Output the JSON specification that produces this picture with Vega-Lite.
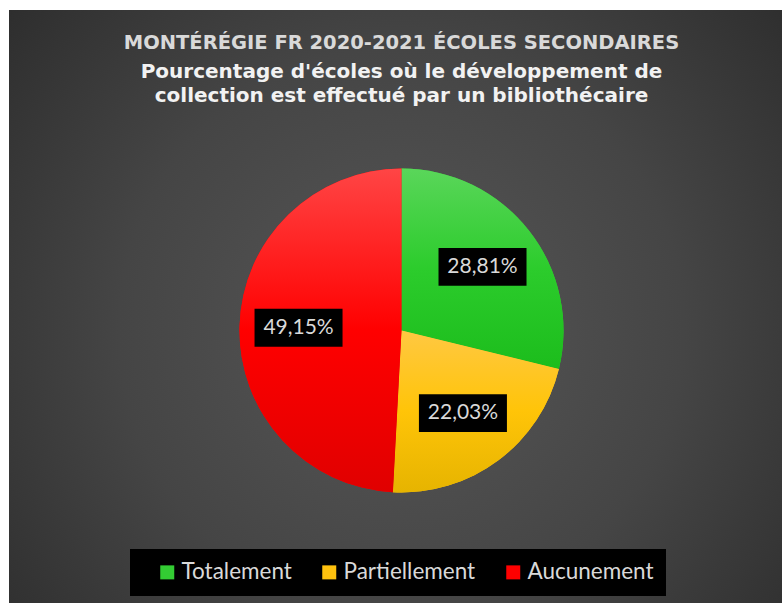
{
  "$schema": "https://vega.github.io/schema/vega-lite/v6.json",
  "width": 782,
  "height": 603,
  "autosize": {"type": "fit", "contains": "padding"},
  "padding": {"left": 9, "top": 10, "right": -12, "bottom": -48},
  "background": "white",
  "title": {
    "text": "MONTÉRÉGIE FR 2020-2021 ÉCOLES SECONDAIRES",
    "subtitle": ["Pourcentage d'écoles où le développement de", "collection est effectué par un bibliothécaire"],
    "anchor": "middle",
    "frame": "group",
    "offset": -97,
    "font": "DejaVu Sans",
    "fontWeight": "bold",
    "fontSize": 19.5,
    "color": "#d9d9d9",
    "subtitleFont": "DejaVu Sans",
    "subtitleFontWeight": "bold",
    "subtitleFontSize": 20,
    "subtitleColor": "#f2f2f2",
    "subtitleLineHeight": 24,
    "subtitlePadding": 9
  },
  "data": {
    "values": [
      {"categorie": "Totalement", "part": 0.2881},
      {"categorie": "Partiellement", "part": 0.2203},
      {"categorie": "Aucunement", "part": 0.4915}
    ]
  },
  "layer": [
    {
      "data": {"values": [{}]},
      "mark": {"type": "rect", "fill": {"gradient": "radial", "x1": 0.5, "y1": 0.5, "r1": 0, "x2": 0.5, "y2": 0.5, "r2": 0.72, "stops": [{"offset": 0, "color": "#575757"}, {"offset": 0.5, "color": "#454545"}, {"offset": 1, "color": "#282828"}]}},
      "encoding": {}
    },
    {
      "mark": {"type": "arc", "outerRadius": 162, "strokeWidth": 0},
      "encoding": {
        "theta": {"field": "part", "type": "quantitative", "stack": true},
        "order": {"field": "categorie", "sort": "descending"},
        "color": {
          "field": "categorie",
          "type": "nominal",
          "scale": {
            "domain": ["Totalement", "Partiellement", "Aucunement"],
            "range": ["#33cc33", "#ffc20e", "#ff0000"]
          },
          "legend": {
            "orient": "none",
            "legendX": 121,
            "legendY": 539,
            "direction": "horizontal",
            "title": " ",
            "titleOrient": "left",
            "titleFontSize": 21,
            "titlePadding": 14,
            "fillColor": "black",
            "padding": 12,
            "symbolType": "square",
            "symbolSize": 196,
            "symbolStrokeWidth": 0,
            "labelFont": "Lato",
            "labelFontSize": 22.5,
            "labelColor": "#d9d9d9",
            "columnPadding": 26,
            "labelOffset": 3
          }
        }
      }
    },
    {
      "mark": {"type": "arc", "outerRadius": 162, "strokeWidth": 0},
      "encoding": {
        "theta": {"field": "part", "type": "quantitative", "stack": true},
        "order": {"field": "categorie", "sort": "descending"},
        "fill": {
          "condition": [
            {"test": "datum.categorie === 'Totalement'", "value": {"gradient": "linear", "x1": 0, "y1": 0, "x2": 0, "y2": 1, "stops": [{"offset": 0, "color": "#5ad65a"}, {"offset": 0.5, "color": "#2ccc2c"}, {"offset": 1, "color": "#1cbd1c"}]}},
            {"test": "datum.categorie === 'Partiellement'", "value": {"gradient": "linear", "x1": 0, "y1": 0, "x2": 0, "y2": 1, "stops": [{"offset": 0, "color": "#ffc842"}, {"offset": 0.5, "color": "#ffc408"}, {"offset": 1, "color": "#e6b400"}]}}
          ],
          "value": {"gradient": "linear", "x1": 0, "y1": 0, "x2": 0, "y2": 1, "stops": [{"offset": 0, "color": "#ff4545"}, {"offset": 0.5, "color": "#ff0000"}, {"offset": 1, "color": "#e00000"}]}
        }
      }
    },
    {
      "transform": [
        {"stack": "part", "groupby": [], "offset": "normalize", "sort": [{"field": "categorie", "order": "descending"}], "as": ["a0", "a1"]},
        {"calculate": "PI * (datum.a0 + datum.a1)", "as": "ang"},
        {"calculate": "sin(datum.ang)", "as": "ux"},
        {"calculate": "cos(datum.ang)", "as": "uy"}
      ],
      "encoding": {
        "x": {"field": "ux", "type": "quantitative", "axis": null, "scale": {"domain": [-3.8107, 3.8107], "nice": false, "zero": false}},
        "y": {"field": "uy", "type": "quantitative", "axis": null, "scale": {"domain": [-3.1117, 3.1117], "nice": false, "zero": false}}
      },
      "layer": [
        {
          "mark": {"type": "point", "shape": "M-1,-0.43H1V0.43H-1Z", "size": 7744, "filled": true, "fill": "black", "opacity": 1, "strokeWidth": 0}
        },
        {
          "mark": {"type": "text", "font": "Lato", "fontSize": 21, "fill": "#d9d9d9", "align": "center", "baseline": "middle"},
          "encoding": {
            "text": {"field": "part", "type": "quantitative", "format": ".2%"}
          }
        }
      ]
    }
  ],
  "config": {
    "locale": {"number": {"decimal": ",", "thousands": " ", "grouping": [3], "currency": ["", " €"]}},
    "view": {"stroke": null}
  }
}
